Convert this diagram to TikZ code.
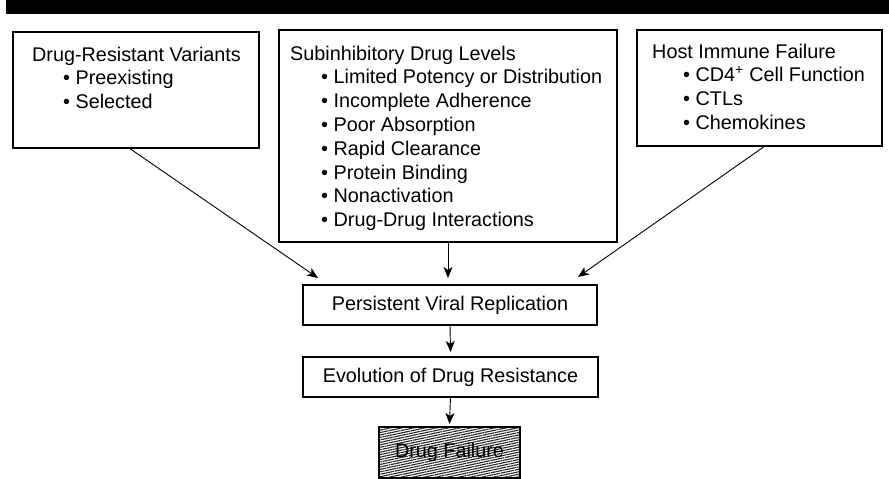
\documentclass[tikz,border=0pt]{standalone}
\usepackage{fontspec}
\setmainfont{Liberation Sans}
\usetikzlibrary{arrows.meta,patterns.meta}
\tikzset{
  boxnode/.style={draw=black, line width=1.3pt, rectangle, inner sep=0pt, outer sep=0pt},
  arr/.style={line width=0.9pt, -{Stealth[length=11pt,width=9pt,inset=3pt]}},
  txt/.style={inner sep=0pt, anchor=base west, font=\fontsize{19.8}{23.8}\selectfont},
  ctxt/.style={font=\fontsize{19.8}{23.8}\selectfont}
}
\newcommand{\bul}[1]{\hspace*{31pt}•\ #1}
\begin{document}
\begin{tikzpicture}[x=1pt,y=-1pt]
\useasboundingbox (0,0) rectangle (889,479);
\fill[black] (6,0) rectangle (889,14);
% boxes
\node[boxnode, minimum width=246pt, minimum height=116pt] (b1) at (136,90) {};
\node[boxnode, minimum width=338pt, minimum height=212pt] (b2) at (448,136) {};
\node[boxnode, minimum width=245pt, minimum height=116pt] (b3) at (759.5,88) {};
\node[boxnode, minimum width=294pt, minimum height=40pt, ctxt] (pvr) at (450,305) {Persistent Viral Replication};
\node[boxnode, minimum width=295pt, minimum height=40pt, ctxt] (edr) at (450.5,377) {Evolution of Drug Resistance};
\node[boxnode, minimum width=141pt, minimum height=51pt, fill=black!25,
      pattern={Lines[angle=12,distance=2.4pt,line width=1.1pt]}, pattern color=black!85] (df) at (449.5,452.5) {};
\node[ctxt, inner sep=1pt] (dft) at (df.center) {Drug Failure};
% texts
\node[txt] (t1) at (32,61) {\begin{tabular}[t]{@{}l@{}}Drug-Resistant Variants\\ \bul{Preexisting}\\ \bul{Selected}\end{tabular}};
\node[txt] (t2) at (290,60) {\begin{tabular}[t]{@{}l@{}}Subinhibitory Drug Levels\\
 \bul{Limited Potency or Distribution}\\ \bul{Incomplete Adherence}\\ \bul{Poor Absorption}\\
 \bul{Rapid Clearance}\\ \bul{Protein Binding}\\ \bul{Nonactivation}\\ \bul{Drug-Drug Interactions}\end{tabular}};
\node[txt] (t3) at (652,58) {\begin{tabular}[t]{@{}l@{}}Host Immune Failure\\ \bul{CD4\textsuperscript{+} Cell Function}\\ \bul{CTLs}\\ \bul{Chemokines}\end{tabular}};
% arrows
\draw[arr] ([xshift=-7pt]b1.south) -- ([xshift=-132pt,yshift=7pt]pvr.north);
\draw[arr] (b2.south) -- ([yshift=7pt]b2.south |- pvr.north);
\draw[arr] ([xshift=5.5pt]b3.south) -- ([xshift=128pt,yshift=8pt]pvr.north);
\draw[arr] (pvr.south) -- ([yshift=5pt]edr.north);
\draw[arr] (edr.south) -- ([yshift=3pt]df.north);
\end{tikzpicture}
\end{document}
